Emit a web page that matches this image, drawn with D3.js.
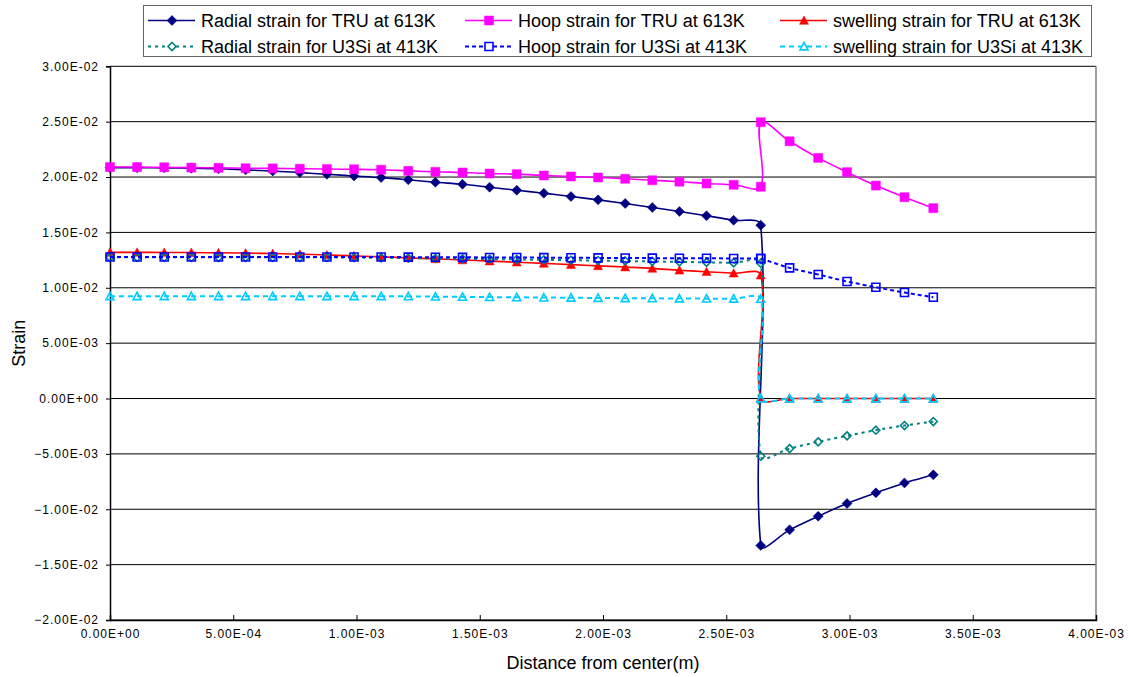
<!DOCTYPE html>
<html>
<head>
<meta charset="utf-8">
<script src="https://cdn.jsdelivr.net/npm/d3@7"></script>
<style>
  body { margin: 0; background: #fff; }
  svg { display: block; font-family: "Liberation Sans", Arial, sans-serif; }
</style>
</head>
<body>
<div class="chart"></div>
<script>
// distance from center (m); the 2.64E-03 point is repeated for the jump at the boundary
const distance = [0, 0.00011, 0.00022, 0.00033, 0.00044, 0.00055, 0.00066, 0.00077, 0.00088, 0.00099,
  0.0011, 0.00121, 0.00132, 0.00143, 0.00154, 0.00165, 0.00176, 0.00187, 0.00198, 0.00209,
  0.0022, 0.00231, 0.00242, 0.00253, 0.00264,
  0.00264, 0.002757, 0.002873, 0.00299, 0.003107, 0.003223, 0.00334];

const radialTRU = [0.02085, 0.02085, 0.02083, 0.0208, 0.02075, 0.02065, 0.02055, 0.0204, 0.02025, 0.0201,
  0.01995, 0.01975, 0.01953, 0.01935, 0.01908, 0.01881, 0.01854, 0.01824, 0.01794, 0.01761,
  0.01725, 0.01689, 0.0165, 0.0161, 0.01565,
  -0.01327, -0.01186, -0.01063, -0.00948, -0.00852, -0.00762, -0.00689];

const hoopTRU = [0.0209, 0.0209, 0.02088, 0.02085, 0.02083, 0.0208, 0.02078, 0.02075, 0.02072, 0.0207,
  0.02066, 0.02056, 0.02047, 0.02041, 0.02032, 0.02026, 0.02014, 0.02005, 0.01996, 0.01984,
  0.01971, 0.01958, 0.01942, 0.0193, 0.01912,
  0.02495, 0.02323, 0.02173, 0.02044, 0.01923, 0.01818, 0.01719];

const swellTRU = [0.0132, 0.0132, 0.01319, 0.01318, 0.01316, 0.01313, 0.01309, 0.01303, 0.01296, 0.01288,
  0.01279, 0.0127, 0.01261, 0.01251, 0.01241, 0.01231, 0.0122, 0.01209, 0.01198, 0.01187,
  0.01175, 0.01158, 0.01145, 0.01132, 0.01114,
  0, 0, 0, 0, 0, 0, 0];

const radialU3Si = [0.01275, 0.01275, 0.01275, 0.01275, 0.01275, 0.01275, 0.01275, 0.01275, 0.01275, 0.01273,
  0.01271, 0.01268, 0.01265, 0.01262, 0.01259, 0.01256, 0.01252, 0.01249, 0.01246, 0.01242,
  0.01238, 0.01234, 0.0123, 0.01226, 0.01222,
  -0.00521, -0.00452, -0.00391, -0.00337, -0.00286, -0.00244, -0.00208];

const hoopU3Si = [0.01278, 0.01278, 0.01278, 0.01278, 0.01278, 0.01278, 0.01278, 0.01278, 0.01278, 0.01278,
  0.01278, 0.01277, 0.01276, 0.01275, 0.01274, 0.01273, 0.01272, 0.01271, 0.0127, 0.01269,
  0.01268, 0.01267, 0.01266, 0.01265, 0.01264,
  0.01264, 0.0118, 0.0112, 0.01057, 0.01005, 0.00957, 0.00915];

const swellU3Si = [0.00924, 0.00924, 0.00924, 0.00924, 0.00924, 0.00924, 0.00924, 0.00924, 0.00924, 0.00924,
  0.00924, 0.00922, 0.0092, 0.00918, 0.00916, 0.00914, 0.00912, 0.0091, 0.00908, 0.00906,
  0.00905, 0.00903, 0.00902, 0.00901, 0.009,
  0, 0, 0, 0, 0, 0, 0];

const seriesNames = [
  'Radial strain for TRU at 613K', 'Hoop strain for TRU at 613K', 'swelling strain for TRU at 613K',
  'Radial strain for U3Si at 413K', 'Hoop strain for U3Si at 413K', 'swelling strain for U3Si at 413K',
];

const xTicks = [0, 0.0005, 0.001, 0.0015, 0.002, 0.0025, 0.003, 0.0035, 0.004];
const yTicks = [-0.02, -0.015, -0.01, -0.005, 0, 0.005, 0.01, 0.015, 0.02, 0.025, 0.03];

const series = [
  { name: seriesNames[0], values: radialTRU, color: '#000080', marker: 'diamond', open: false, dash: null },
  { name: seriesNames[1], values: hoopTRU, color: '#ff00ff', marker: 'square', open: false, dash: null },
  { name: seriesNames[2], values: swellTRU, color: '#ff0000', marker: 'triangle', open: false, dash: null },
  { name: seriesNames[3], values: radialU3Si, color: '#008080', marker: 'diamond', open: true, dash: '3,4' },
  { name: seriesNames[4], values: hoopU3Si, color: '#0000ff', marker: 'square', open: true, dash: '4,3' },
  { name: seriesNames[5], values: swellU3Si, color: '#00ccff', marker: 'triangle', open: true, dash: '5,4' },
];

// Excel-like E notation: 2.50E-02
const sci = (v) => {
  const [m, e] = d3.format('.2e')(v).split('e');
  const n = +e;
  return `${m}E${n < 0 ? '-' : '+'}${String(Math.abs(n)).padStart(2, '0')}`;
};

const markerPath = (type, s) => {
  if (type === 'diamond') return `M0,${-s}L${s},0L0,${s}L${-s},0Z`;
  if (type === 'square') return `M${-s},${-s}H${s}V${s}H${-s}Z`;
  return `M0,${-s}L${s},${s * 0.85}L${-s},${s * 0.85}Z`;
};

// smoothed line like a spreadsheet "smoothed line": tangents scaled by segment length,
// so a long jump next to short steps does not balloon
function SmoothCurve(context) { this._context = context; }
SmoothCurve.prototype = {
  areaStart() {}, areaEnd() {},
  lineStart() { this._pts = []; },
  point(px, py) { this._pts.push([+px, +py]); },
  lineEnd() {
    const p = this._pts;
    const ctx = this._context;
    const dist = (a, b) => Math.hypot(b[0] - a[0], b[1] - a[1]);
    if (!p.length) return;
    ctx.moveTo(p[0][0], p[0][1]);
    for (let i = 0; i < p.length - 1; i += 1) {
      const p0 = p[i - 1] || p[i];
      const p1 = p[i];
      const p2 = p[i + 1];
      const p3 = p[i + 2] || p[i + 1];
      const d01 = dist(p0, p1);
      const d12 = dist(p1, p2);
      const d23 = dist(p2, p3);
      const k1 = d01 + d12 > 0 ? d12 / (d01 + d12) / 3 : 0;
      const k2 = d12 + d23 > 0 ? d12 / (d12 + d23) / 3 : 0;
      ctx.bezierCurveTo(
        p1[0] + (p2[0] - p0[0]) * k1, p1[1] + (p2[1] - p0[1]) * k1,
        p2[0] - (p3[0] - p1[0]) * k2, p2[1] - (p3[1] - p1[1]) * k2,
        p2[0], p2[1],
      );
    }
  },
};
const curveSmooth = context => new SmoothCurve(context);

const width = 1133;
const height = 677;
const plot = { left: 110, right: 1096, top: 66.3, bottom: 620 };

const svg = d3.select('.chart')
  .append('svg')
  .attr('width', width)
  .attr('height', height);

const x = d3.scaleLinear().domain([0, 0.004]).range([plot.left, plot.right]);
const y = d3.scaleLinear().domain([-0.02, 0.03]).range([plot.bottom, plot.top]);

/* grid */
svg.append('g')
  .selectAll('line')
  .data(yTicks)
  .enter().append('line')
  .attr('x1', plot.left)
  .attr('x2', plot.right)
  .attr('y1', d => y(d))
  .attr('y2', d => y(d))
  .attr('stroke', '#000')
  .attr('stroke-width', 1);

svg.append('line')
  .attr('x1', plot.right).attr('x2', plot.right)
  .attr('y1', plot.top).attr('y2', plot.bottom)
  .attr('stroke', '#808080')
  .attr('stroke-width', 1.5);

/* axes */
const xAxis = d3.axisBottom(x)
  .tickValues(xTicks)
  .tickSize(-5)
  .tickPadding(14)
  .tickFormat(sci);

const yAxis = d3.axisLeft(y)
  .tickValues(yTicks)
  .tickSize(4)
  .tickPadding(7)
  .tickFormat(sci);

const xAxisGroup = svg.append('g')
  .attr('transform', `translate(0,${plot.bottom})`)
  .call(xAxis);

const yAxisGroup = svg.append('g')
  .attr('transform', `translate(${plot.left},0)`)
  .call(yAxis);

[xAxisGroup, yAxisGroup].forEach((g) => {
  g.attr('font-family', '"Liberation Sans", Arial, sans-serif').attr('font-size', 12);
  g.select('.domain').attr('stroke', '#000').attr('stroke-width', 1.5);
  g.selectAll('.tick line').attr('stroke', '#000');
  g.selectAll('.tick text')
    .attr('fill', '#000')
    .style('font-size', '12px')
    .style('letter-spacing', '1px');
});
xAxisGroup.selectAll('.tick text').attr('dy', '0.3em');

svg.append('text')
  .attr('x', (plot.left + plot.right) / 2)
  .attr('y', 669)
  .attr('text-anchor', 'middle')
  .style('font-size', '18px')
  .text('Distance from center(m)');

svg.append('text')
  .attr('transform', `translate(25,${(plot.top + plot.bottom) / 2}) rotate(-90)`)
  .attr('text-anchor', 'middle')
  .style('font-size', '18px')
  .text('Strain');

/* series */
const line = d3.line()
  .x(d => x(d[0]))
  .y(d => y(d[1]))
  .curve(curveSmooth);

series.forEach((s) => {
  const pts = distance.map((d, i) => [d, s.values[i]]);
  const g = svg.append('g');
  g.append('path')
    .datum(pts)
    .attr('d', line)
    .attr('fill', 'none')
    .attr('stroke', s.color)
    .attr('stroke-width', s.open ? 2 : 1.6)
    .attr('stroke-dasharray', s.dash);
  g.selectAll('path.mk')
    .data(pts)
    .enter().append('path')
    .attr('class', 'mk')
    .attr('transform', d => `translate(${x(d[0])},${y(d[1])})`)
    .attr('d', markerPath(s.marker, s.open ? 4 : (s.marker === 'diamond' ? 5 : 4.5)))
    .attr('fill', s.open ? 'none' : s.color)
    .attr('stroke', s.color)
    .attr('stroke-width', s.open ? 1.6 : 0.5);
});

/* legend */
const legend = svg.append('g');
legend.append('rect')
  .attr('x', 143.5)
  .attr('y', 5.5)
  .attr('width', 948)
  .attr('height', 51)
  .attr('fill', '#fff')
  .attr('stroke', '#666')
  .attr('stroke-width', 1);

const colX = [148, 465, 780];
const rowY = [20.5, 46.5];

series.forEach((s, i) => {
  const lx = colX[i % 3];
  const ly = rowY[Math.floor(i / 3)];
  const item = legend.append('g');
  item.append('line')
    .attr('x1', lx).attr('x2', lx + 47)
    .attr('y1', ly).attr('y2', ly)
    .attr('stroke', s.color)
    .attr('stroke-width', s.open ? 2 : 1.6)
    .attr('stroke-dasharray', s.dash);
  item.append('path')
    .attr('transform', `translate(${lx + 24},${ly})`)
    .attr('d', markerPath(s.marker, s.open ? 4 : (s.marker === 'diamond' ? 5 : 4.5)))
    .attr('fill', s.open ? '#fff' : s.color)
    .attr('stroke', s.color)
    .attr('stroke-width', s.open ? 1.6 : 0.5);
  item.append('text')
    .attr('x', lx + 53)
    .attr('y', ly)
    .attr('dy', '0.35em')
    .style('font-size', '18px')
    .text(s.name);
});
</script>
</body>
</html>
